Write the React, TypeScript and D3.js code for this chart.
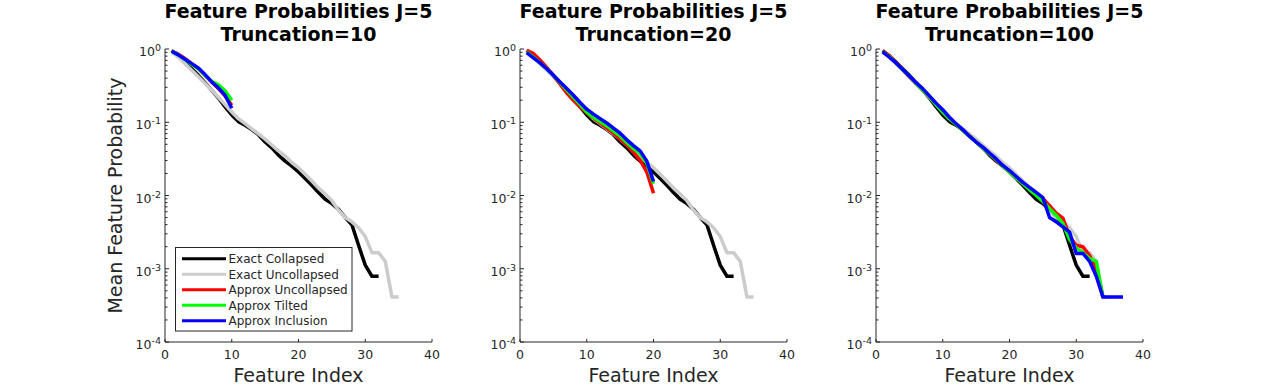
import React, { useRef, useEffect } from 'react';
import * as d3 from 'd3';

// mean feature probability per feature index (index = position + 1)
const exactCollapsed = [0.955, 0.794, 0.661, 0.537, 0.437, 0.347, 0.275, 0.214, 0.162, 0.126, 0.102, 0.0912, 0.0794, 0.0676, 0.0537, 0.0447, 0.0355, 0.0295, 0.0251, 0.0209, 0.017, 0.0138, 0.011, 0.00891, 0.00776, 0.00646, 0.00501, 0.00398, 0.00209, 0.00112, 0.00079, 0.00079];
const exactUncollapsed = [0.912, 0.776, 0.631, 0.513, 0.417, 0.339, 0.275, 0.219, 0.174, 0.138, 0.112, 0.0955, 0.0813, 0.0692, 0.0589, 0.049, 0.0407, 0.0347, 0.0282, 0.024, 0.0195, 0.0158, 0.0126, 0.0105, 0.00851, 0.00631, 0.00501, 0.00437, 0.00363, 0.00275, 0.00166, 0.00166, 0.00126, 0.00041, 0.00041];

const approxUncollapsed10 = [0.933, 0.851, 0.741, 0.631, 0.537, 0.437, 0.355, 0.288, 0.229, 0.17];
const approxTilted10 = [0.933, 0.832, 0.724, 0.617, 0.537, 0.437, 0.363, 0.324, 0.269, 0.2];
const approxInclusion10 = [0.933, 0.832, 0.724, 0.631, 0.55, 0.447, 0.355, 0.295, 0.234, 0.155];

const approxUncollapsed20 = [0.955, 0.871, 0.708, 0.562, 0.437, 0.331, 0.251, 0.2, 0.162, 0.135, 0.115, 0.0977, 0.0832, 0.0708, 0.0589, 0.049, 0.0389, 0.0302, 0.0209, 0.0107];
const approxTilted20 = [0.912, 0.776, 0.646, 0.537, 0.437, 0.347, 0.275, 0.219, 0.174, 0.138, 0.117, 0.102, 0.0891, 0.0759, 0.0646, 0.0525, 0.0437, 0.0372, 0.0275, 0.0145];
const approxInclusion20 = [0.891, 0.759, 0.646, 0.537, 0.437, 0.355, 0.288, 0.234, 0.186, 0.151, 0.129, 0.112, 0.0977, 0.0832, 0.0708, 0.0575, 0.0479, 0.0407, 0.0295, 0.0155];

const approxUncollapsed100 = [0.933, 0.813, 0.661, 0.525, 0.417, 0.339, 0.275, 0.224, 0.178, 0.141, 0.112, 0.0933, 0.0776, 0.0646, 0.0537, 0.0447, 0.0372, 0.0302, 0.0251, 0.0209, 0.0174, 0.0145, 0.0123, 0.0105, 0.00912, 0.00724, 0.00575, 0.0049, 0.00275, 0.00209, 0.002, 0.00151, 0.001, 0.00041];
const approxTilted100 = [0.912, 0.794, 0.646, 0.525, 0.427, 0.339, 0.275, 0.224, 0.174, 0.138, 0.112, 0.0933, 0.0776, 0.0646, 0.0537, 0.0447, 0.0372, 0.0309, 0.0251, 0.0209, 0.0174, 0.0145, 0.012, 0.01, 0.00832, 0.00661, 0.00537, 0.00417, 0.00251, 0.00191, 0.00166, 0.00138, 0.00126, 0.00041];
const approxInclusion100 = [0.912, 0.776, 0.646, 0.525, 0.427, 0.347, 0.288, 0.229, 0.182, 0.148, 0.117, 0.0955, 0.0794, 0.0646, 0.0537, 0.0457, 0.038, 0.0316, 0.0257, 0.0219, 0.0182, 0.0151, 0.0129, 0.011, 0.00933, 0.00501, 0.00437, 0.00372, 0.00316, 0.00162, 0.00162, 0.00126, 0.00079, 0.00041, 0.00041, 0.00041, 0.00041];

const truncations = [10, 20, 100];
const seriesNames = ['Exact Collapsed', 'Exact Uncollapsed', 'Approx Uncollapsed', 'Approx Tilted', 'Approx Inclusion'];
const seriesColors = ['#000000', '#cccccc', '#ff0000', '#00ff00', '#0000ff'];
const xTicks = [0, 10, 20, 30, 40];
const yExponents = [0, -1, -2, -3, -4];

const panelSeries = [
  [exactCollapsed, exactUncollapsed, approxUncollapsed10, approxTilted10, approxInclusion10],
  [exactCollapsed, exactUncollapsed, approxUncollapsed20, approxTilted20, approxInclusion20],
  [exactCollapsed, exactUncollapsed, approxUncollapsed100, approxTilted100, approxInclusion100],
];

const W = 1266;
const H = 387;
const axisColor = '#262626';
const font = 'DejaVu Sans, sans-serif';

const App = () => {
  const ref = useRef(null);

  useEffect(() => {
    const svg = d3.select(ref.current);
    svg.selectAll('*').remove();

    const panelLeft = [165, 520, 876];
    const plotW = 267;
    const top = 49;
    const bottom = 342;

    const y = d3.scaleLog().domain([1e-4, 1]).range([bottom, top]);

    panelLeft.forEach((left, p) => {
      const x = d3.scaleLinear().domain([0, 40]).range([left, left + plotW]);
      const g = svg.append('g');
      const cx = left + plotW / 2;

      // lines
      const line = d3.line()
        .x((d, i) => x(i + 1))
        .y(d => y(d));
      panelSeries[p].forEach((vals, s) => {
        g.append('path')
          .datum(vals)
          .attr('fill', 'none')
          .attr('stroke', seriesColors[s])
          .attr('stroke-width', 3.5)
          .attr('stroke-linejoin', 'round')
          .attr('d', line);
      });

      // axes
      g.append('line')
        .attr('x1', left).attr('x2', left)
        .attr('y1', top).attr('y2', bottom)
        .attr('stroke', axisColor).attr('stroke-width', 1);
      g.append('line')
        .attr('x1', left).attr('x2', left + plotW)
        .attr('y1', bottom).attr('y2', bottom)
        .attr('stroke', axisColor).attr('stroke-width', 1);

      xTicks.forEach(t => {
        g.append('line')
          .attr('x1', x(t)).attr('x2', x(t))
          .attr('y1', bottom).attr('y2', bottom - 3)
          .attr('stroke', axisColor);
        g.append('text')
          .attr('x', x(t)).attr('y', 359)
          .attr('text-anchor', 'middle')
          .attr('font-family', font).attr('font-size', 12.5)
          .attr('fill', axisColor)
          .text(t);
      });

      yExponents.forEach(e => {
        const yy = y(Math.pow(10, e));
        g.append('line')
          .attr('x1', left).attr('x2', left + 4)
          .attr('y1', yy).attr('y2', yy)
          .attr('stroke', axisColor);
        const label = g.append('text')
          .attr('x', left - 4).attr('y', yy + 7)
          .attr('text-anchor', 'end')
          .attr('font-family', font).attr('font-size', 12.5)
          .attr('fill', axisColor);
        label.append('tspan').text('10');
        label.append('tspan')
          .attr('font-size', 9.5)
          .attr('dy', -5)
          .text(e);
        if (e > -4) {
          d3.range(2, 10).forEach(k => {
            const ym = y(k * Math.pow(10, e - 1));
            g.append('line')
              .attr('x1', left).attr('x2', left + 2.5)
              .attr('y1', ym).attr('y2', ym)
              .attr('stroke', axisColor);
          });
        }
      });

      // titles
      g.append('text')
        .attr('x', cx).attr('y', 17.5)
        .attr('text-anchor', 'middle')
        .attr('font-family', font).attr('font-size', 19).attr('font-weight', 'bold')
        .text('Feature Probabilities J=5');
      g.append('text')
        .attr('x', cx).attr('y', 40.5)
        .attr('text-anchor', 'middle')
        .attr('font-family', font).attr('font-size', 19).attr('font-weight', 'bold')
        .text(`Truncation=${truncations[p]}`);

      g.append('text')
        .attr('x', cx).attr('y', 382)
        .attr('text-anchor', 'middle')
        .attr('font-family', font).attr('font-size', 19)
        .attr('fill', axisColor)
        .text('Feature Index');

      if (p === 0) {
        g.append('text')
          .attr('transform', `translate(122,${(top + bottom) / 2}) rotate(-90)`)
          .attr('text-anchor', 'middle')
          .attr('font-family', font).attr('font-size', 19)
          .attr('fill', axisColor)
          .text('Mean Feature Probability');

        const legend = g.append('g');
        legend.append('rect')
          .attr('x', 175.5).attr('y', 247.5)
          .attr('width', 176.5).attr('height', 83.5)
          .attr('fill', 'white')
          .attr('stroke', axisColor).attr('stroke-width', 1);
        seriesNames.forEach((name, s) => {
          const ly = 258.7 + s * 15.5;
          legend.append('line')
            .attr('x1', 182).attr('x2', 226)
            .attr('y1', ly).attr('y2', ly)
            .attr('stroke', seriesColors[s]).attr('stroke-width', 3);
          legend.append('text')
            .attr('x', 228.5).attr('y', ly + 4.3)
            .attr('font-family', font).attr('font-size', 12)
            .attr('fill', axisColor)
            .text(name);
        });
      }
    });
  }, []);

  return (
    <svg ref={ref} width={W} height={H}
      style={{ position: 'absolute', left: 0, top: 0, background: 'white' }} />
  );
};

export default App;
